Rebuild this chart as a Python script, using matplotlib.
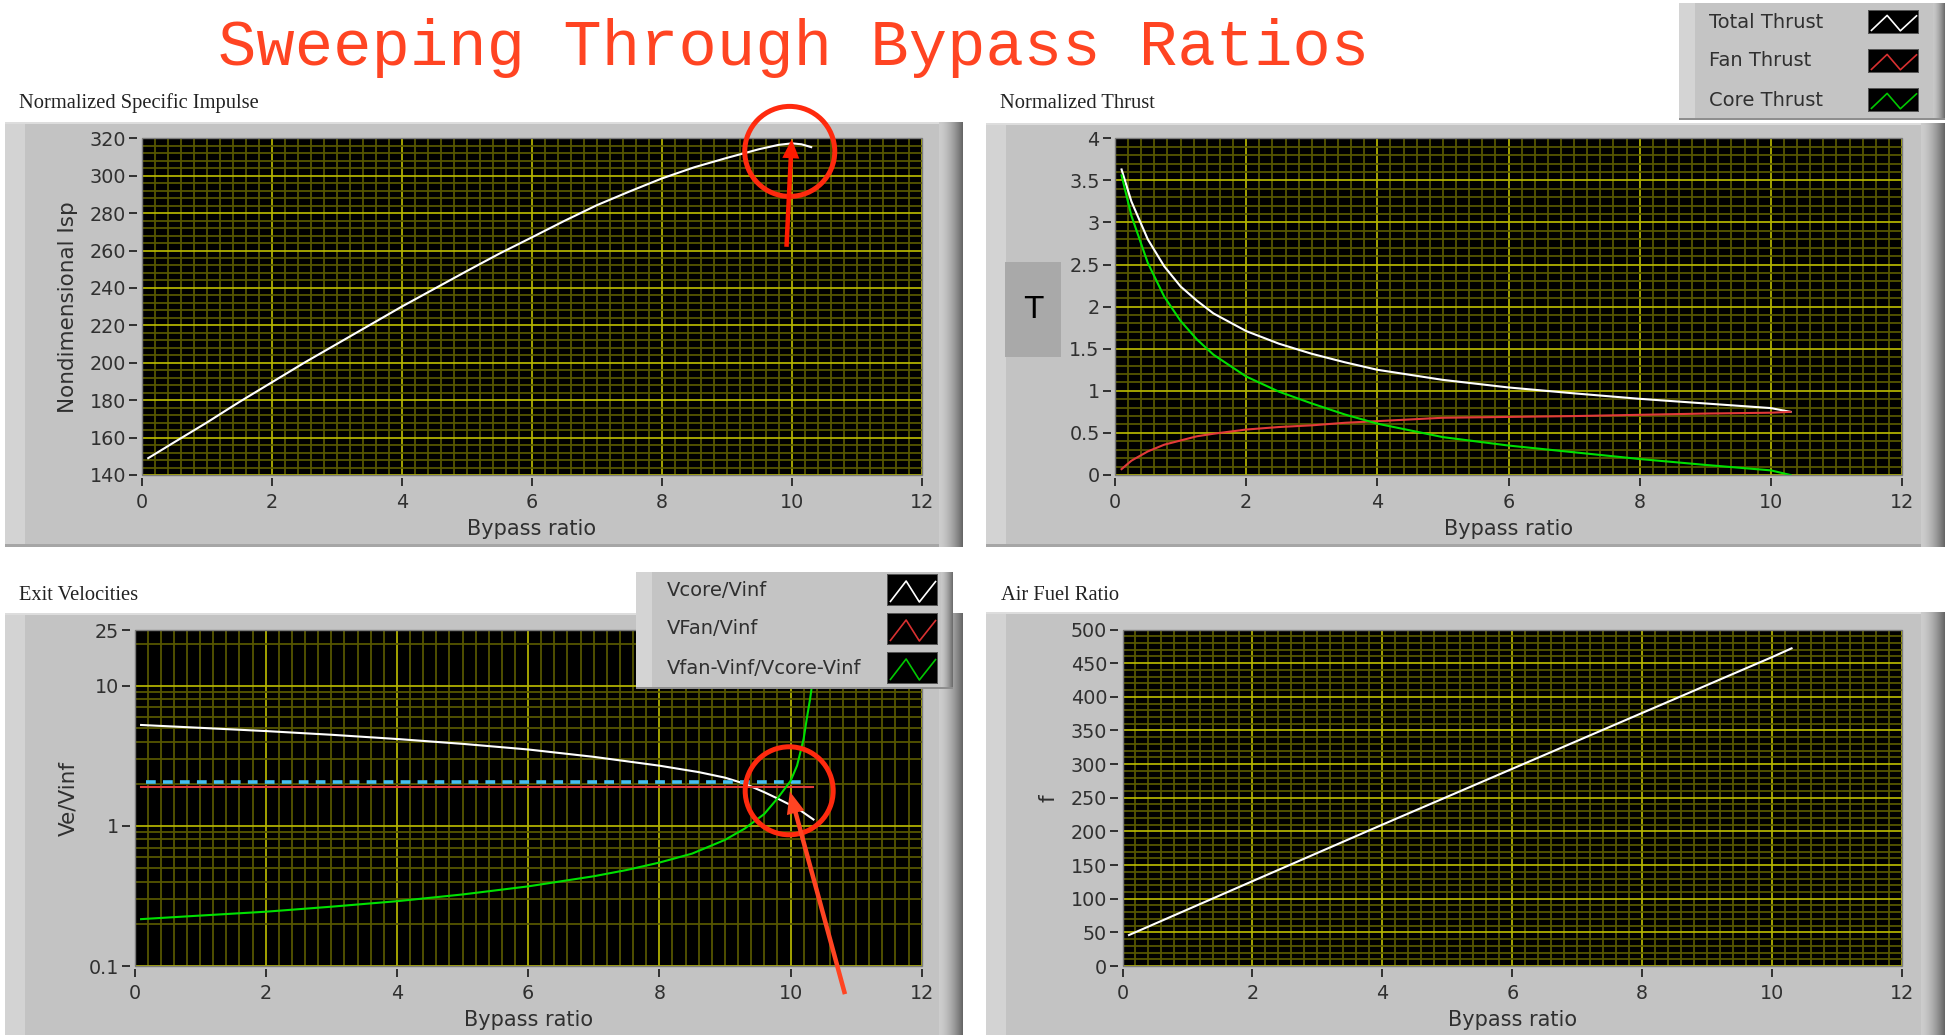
import numpy as np
import matplotlib
matplotlib.use('Agg')
import matplotlib.pyplot as plt
from matplotlib.patches import Rectangle, Circle, FancyArrow
from matplotlib.lines import Line2D
from matplotlib.ticker import MultipleLocator, FixedLocator, NullFormatter, LogLocator, FuncFormatter
from matplotlib.transforms import IdentityTransform

W, H = 1951, 1035
DPI = 100

# ---------------- data ----------------
bpr_isp = [0.1, 0.5, 1, 1.5, 2, 2.5, 3, 3.5, 4, 4.5, 5, 5.5, 6, 6.5, 7, 7.5, 8, 8.5, 9, 9.5, 9.8, 10, 10.15, 10.3]
isp = [149, 157.5, 168, 179, 189.5, 200, 210, 220, 230, 239.5, 249, 258.3, 267, 275.8, 284.2, 291.5, 298.5, 304.5, 309.5, 314.2, 316.5, 317.3, 316.8, 315.3]

bpr_thrust = [0.1, 0.25, 0.5, 0.75, 1, 1.25, 1.5, 2, 2.5, 3, 3.5, 4, 5, 6, 7, 8, 9, 10, 10.3]
total_thrust = [3.63, 3.25, 2.80, 2.48, 2.24, 2.07, 1.92, 1.71, 1.56, 1.44, 1.34, 1.25, 1.13, 1.04, 0.97, 0.905, 0.85, 0.795, 0.75]
fan_thrust = [0.07, 0.17, 0.28, 0.36, 0.41, 0.46, 0.49, 0.54, 0.57, 0.59, 0.62, 0.64, 0.68, 0.69, 0.70, 0.715, 0.73, 0.74, 0.75]
core_thrust = [3.56, 3.08, 2.52, 2.12, 1.83, 1.61, 1.43, 1.17, 0.99, 0.85, 0.72, 0.61, 0.45, 0.35, 0.27, 0.19, 0.12, 0.055, 0.0]

bpr_vel = [0.1, 1, 2, 3, 4, 5, 6, 7, 8, 8.6, 9, 9.3, 9.6, 9.8, 10, 10.15, 10.35]
vcore_vinf = [5.25, 5.01, 4.75, 4.47, 4.17, 3.85, 3.51, 3.11, 2.69, 2.42, 2.21, 2.00, 1.74, 1.57, 1.41, 1.29, 1.11]
bpr_fan = [0.1, 10.35]
vfan_vinf = [1.89, 1.89]
bpr_ref = [0.18, 10.27]
vfan_ref = [2.05, 2.05]
bpr_ratio = [0.1, 1, 2, 3, 4, 5, 6, 7, 7.5, 8, 8.5, 9, 9.3, 9.6, 9.8, 10, 10.1, 10.2, 10.25, 10.3, 10.35, 10.4]
vel_ratio = [0.216, 0.229, 0.244, 0.265, 0.290, 0.324, 0.370, 0.437, 0.484, 0.547, 0.634, 0.794, 0.955, 1.216, 1.567, 2.09, 2.69, 4.17, 5.89, 8.13, 12.0, 20.0]

bpr_afr = [0.1, 2, 4, 6, 8, 10, 10.3]
air_fuel = [46, 126, 210, 293, 376, 459, 472]

series_colors = {'white': '#FFFFFF', 'red': '#E23A3A', 'green': '#00E000', 'blue': '#44BFF2'}

# ---------------- figure ----------------
fig = plt.figure(figsize=(W / DPI, H / DPI), dpi=DPI)
fig.patch.set_facecolor('white')

TICK_FONT = 'DejaVu Sans'
GRAY_TXT = '#303030'


def rect(x0, y0, x1, y1, color, z=-5):
    fig.add_artist(Rectangle((x0 / W, 1 - y1 / H), (x1 - x0) / W, (y1 - y0) / H,
                             transform=fig.transFigure, fc=color, ec='none', zorder=z))


def frame(x0, y0, x1, y1, z=-5, left=20, grad=24):
    rect(x0, y0, x1, y1, '#C3C3C3', z)
    rect(x0, y0, x0 + left, y1, '#D3D3D3', z)
    rect(x0, y0, x1, y0 + 2, '#DDDDDD', z)
    rect(x0, y1 - 3, x1, y1, '#A6A6A6', z)
    n = grad
    for i in range(n):
        t = i / (n - 1)
        c = 0.80 - 0.40 * t ** 1.6
        rect(x1 - n + i, y0, x1 - n + i + 1, y1, (c, c, c), z)


# panel frames
frame(5, 122, 963, 547)
frame(986, 123, 1945, 547)
frame(5, 613, 963, 1040)
frame(986, 612, 1945, 1040)

# title and panel captions
fig.text(218 / W, 1 - 65 / H, 'Sweeping Through Bypass Ratios', family='Liberation Mono',
         size=46, color='#FF4422', va='baseline', ha='left')
for (tx, ty, s) in [(19, 103, 'Normalized Specific Impulse'), (1000, 103, 'Normalized Thrust'),
                    (19, 595, 'Exit Velocities'), (1001, 595, 'Air Fuel Ratio')]:
    fig.text(tx / W, 1 - ty / H, s, family='Liberation Serif', size=14.8, color='#222222',
             va='center', ha='left')


def make_ax(x0, y0, x1, y1):
    ax = fig.add_axes([x0 / W, 1 - y1 / H, (x1 - x0) / W, (y1 - y0) / H])
    ax.set_facecolor('black')
    ax.set_axisbelow(True)
    for s in ax.spines.values():
        s.set_visible(False)
    ax.spines['left'].set_position(('outward', 3.2))
    ax.spines['bottom'].set_position(('outward', 2.3))
    ax.tick_params(which='major', direction='out', length=5.5, width=1.4, color=GRAY_TXT,
                   labelsize=13.8, labelcolor=GRAY_TXT, top=False, right=False)
    ax.tick_params(axis='x', which='major', pad=5)
    ax.tick_params(axis='y', which='major', pad=2.4)
    ax.tick_params(which='minor', length=0)
    ax.add_patch(Rectangle((0, 0), 1, 1, transform=ax.transAxes, fill=False,
                           ec='#7C7C7C', lw=1.0, zorder=4, clip_on=False))
    return ax


def style_grid(ax):
    ax.grid(which='minor', color='#565600', lw=1.3)
    ax.grid(which='major', color='#B0B000', lw=1.3)


def labels(ax, xlabel, ylabel, xlab_px, ylab_px):
    inv = ax.transAxes.inverted()
    ax.set_xlabel(xlabel, family=TICK_FONT, size=15, color=GRAY_TXT)
    p = inv.transform((0, H - xlab_px))
    ax.xaxis.set_label_coords(0.5, p[1])
    ax.xaxis.label.set_va('center')
    if ylabel:
        ax.set_ylabel(ylabel, family=TICK_FONT, size=15.5, color=GRAY_TXT)
        q = inv.transform((ylab_px, 0))
        ax.yaxis.set_label_coords(q[0], 0.5)
        ax.yaxis.label.set_va('center')
        ax.yaxis.label.set_ha('center')


gfmt = FuncFormatter(lambda v, p: '%g' % v)

# ---- panel 1 : Isp ----
ax1 = make_ax(141.7, 138.3, 921.7, 475)
ax1.plot(bpr_isp, isp, color=series_colors['white'], lw=1.5)
ax1.set_xlim(0, 12)
ax1.set_ylim(140, 320)
ax1.xaxis.set_major_locator(MultipleLocator(2))
ax1.xaxis.set_minor_locator(MultipleLocator(0.2))
ax1.yaxis.set_major_locator(MultipleLocator(20))
ax1.yaxis.set_minor_locator(MultipleLocator(4))
ax1.xaxis.set_major_formatter(gfmt)
style_grid(ax1)
labels(ax1, 'Bypass ratio', 'Nondimensional Isp', 529, 68)

# ---- panel 2 : thrust ----
ax2 = make_ax(1115, 138.3, 1902, 475)
ax2.plot(bpr_thrust, total_thrust, color=series_colors['white'], lw=1.5)
ax2.plot(bpr_thrust, fan_thrust, color=series_colors['red'], lw=1.5)
ax2.plot(bpr_thrust, core_thrust, color=series_colors['green'], lw=1.5)
ax2.set_xlim(0, 12)
ax2.set_ylim(0, 4)
ax2.xaxis.set_major_locator(MultipleLocator(2))
ax2.xaxis.set_minor_locator(MultipleLocator(0.2))
ax2.yaxis.set_major_locator(MultipleLocator(0.5))
ax2.yaxis.set_minor_locator(MultipleLocator(0.1))
ax2.xaxis.set_major_formatter(gfmt)
ax2.yaxis.set_major_formatter(gfmt)
style_grid(ax2)
labels(ax2, 'Bypass ratio', None, 529, None)
rect(1005, 262, 1061, 357, '#A9A9A9', z=1)
fig.text(1033 / W, 1 - 309 / H, 'T', family=TICK_FONT, size=22, color='black',
         ha='center', va='center', zorder=2)

# ---- panel 3 : exit velocities ----
ax3 = make_ax(134.5, 630, 921.7, 966)
ax3.set_yscale('log')
ax3.plot(bpr_vel, vcore_vinf, color=series_colors['white'], lw=1.5)
ax3.plot(bpr_fan, vfan_vinf, color=series_colors['red'], lw=1.5)
ax3.plot(bpr_ref, vfan_ref, color=series_colors['blue'], lw=2.6, dashes=(2.7, 2.0))
ax3.plot(bpr_ratio, vel_ratio, color=series_colors['green'], lw=1.5)
ax3.set_xlim(0, 12)
ax3.set_ylim(0.1, 25)
ax3.xaxis.set_major_locator(MultipleLocator(2))
ax3.xaxis.set_minor_locator(MultipleLocator(0.2))
ax3.yaxis.set_major_locator(FixedLocator([0.1, 1, 10, 25]))
ax3.yaxis.set_minor_locator(LogLocator(base=10, subs=[2, 3, 4, 5, 6, 7, 8, 9], numticks=20))
ax3.yaxis.set_minor_formatter(NullFormatter())
ax3.yaxis.set_major_formatter(gfmt)
ax3.xaxis.set_major_formatter(gfmt)
style_grid(ax3)
labels(ax3, 'Bypass ratio', 'Ve/Vinf', 1020, 68)

# ---- panel 4 : air fuel ratio ----
ax4 = make_ax(1122.5, 629.5, 1902, 966)
ax4.plot(bpr_afr, air_fuel, color=series_colors['white'], lw=1.5)
ax4.set_xlim(0, 12)
ax4.set_ylim(0, 500)
ax4.xaxis.set_major_locator(MultipleLocator(2))
ax4.xaxis.set_minor_locator(MultipleLocator(0.2))
ax4.yaxis.set_major_locator(MultipleLocator(50))
ax4.yaxis.set_minor_locator(MultipleLocator(10))
ax4.xaxis.set_major_formatter(gfmt)
style_grid(ax4)
labels(ax4, 'Bypass ratio', 'f', 1020, 1048)

for ax in (ax1, ax2, ax3, ax4):
    for lab in ax.get_xticklabels() + ax.get_yticklabels():
        lab.set_family(TICK_FONT)


# ---------------- legends (LabVIEW plot legends) ----------------
def legend_box(x0, y0, x1, y1, names, colors, text_x, rows, sw_x0, sw_x1, sw_h):
    z = 6
    rect(x0, y0, x1, y1, '#C4C4C4', z)
    rect(x0, y0, x0 + 16, y1, '#D4D4D4', z)
    rect(x0, y1 - 2, x1, y1, '#8E8E8E', z)
    n = 12
    for i in range(n):
        t = i / (n - 1)
        c = 0.78 - 0.35 * t ** 1.5
        rect(x1 - n + i, y0, x1 - n + i + 1, y1 - 2, (c, c, c), z)
    for name, col, yc in zip(names, colors, rows):
        fig.text(text_x / W, 1 - yc / H, name, family=TICK_FONT, size=14, color=GRAY_TXT,
                 ha='left', va='center', zorder=z + 1)
        sy0, sy1 = yc - sw_h / 2, yc + sw_h / 2
        rect(sw_x0 - 1, sy0 - 1, sw_x1 + 1, sy1 + 1, '#555555', z + 1)
        rect(sw_x0, sy0, sw_x1, sy1, 'black', z + 1)
        w, h = sw_x1 - sw_x0, sy1 - sy0
        zx = [0.05, 0.37, 0.64, 0.97]
        zy = [0.88, 0.20, 0.90, 0.22]
        xs = [(sw_x0 + a * w) / W for a in zx]
        ys = [1 - (sy0 + b * h) / H for b in zy]
        fig.add_artist(Line2D(xs, ys, transform=fig.transFigure, color=col, lw=1.2, zorder=z + 2))


legend_box(1679, 3, 1945, 120, ['Total Thrust', 'Fan Thrust', 'Core Thrust'],
           [series_colors['white'], '#D83030', '#00C800'], 1709, [22, 61, 100], 1869, 1918, 22)
legend_box(636, 572, 953, 689, ['Vcore/Vinf', 'VFan/Vinf', 'Vfan-Vinf/Vcore-Vinf'],
           [series_colors['white'], '#D83030', '#00C800'], 667, [590, 629, 668], 888, 937, 30)

# ---------------- red annotations ----------------
ID = IdentityTransform()


def disp(ax, x, y):
    return ax.transData.transform((x, y))


c1 = disp(ax1, 9.97, 313)
fig.add_artist(Circle(c1, 45, transform=ID, fill=False, ec='#FF2A0E', lw=3.6, zorder=10))
t1 = disp(ax1, 10.0, 319.5)
b1 = disp(ax1, 9.92, 262)
fig.add_artist(FancyArrow(b1[0], b1[1], t1[0] - b1[0], t1[1] - b1[1], width=4.5, head_width=17,
                          head_length=19, length_includes_head=True, transform=ID,
                          fc='#FF1A00', ec='none', zorder=10))

c3 = disp(ax3, 9.98, 1.78)
fig.add_artist(Circle(c3, 44, transform=ID, fill=False, ec='#FF2A0E', lw=3.6, zorder=10))
t3 = disp(ax3, 9.99, 1.76)
b3 = disp(ax3, 10.83, 0.063)
fig.add_artist(FancyArrow(b3[0], b3[1], t3[0] - b3[0], t3[1] - b3[1], width=4.5, head_width=18,
                          head_length=22, length_includes_head=True, transform=ID,
                          fc='#FF4422', ec='none', zorder=10))

fig.savefig('out.png', dpi=DPI, facecolor='white')
